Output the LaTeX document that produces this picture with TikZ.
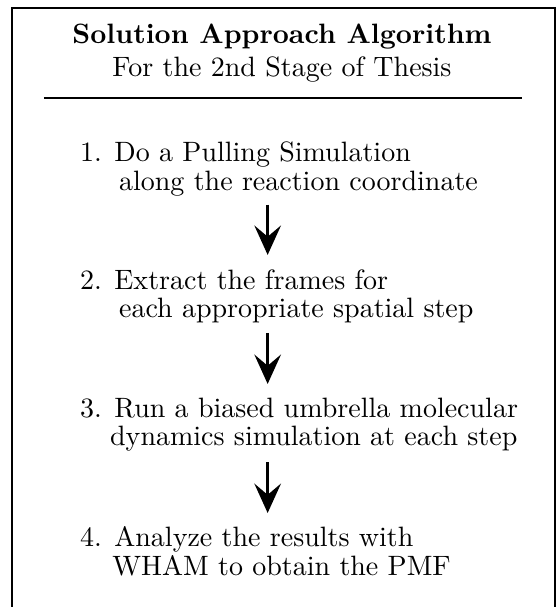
\documentclass[tikz,border=0pt]{standalone}
\usepackage{amsmath}
\usepackage{tikz}
\usepackage{xcolor}
\usetikzlibrary{arrows.meta}

\tikzset{
    stepnode/.style={anchor=west, align=left, inner sep=0pt, font=\fontsize{10}{10.2}\selectfont},
    headnode/.style={anchor=base, inner sep=0pt, font=\fontsize{10}{10.2}\selectfont},
    flowarrow/.style={black, line width=0.9pt, -{Stealth[length=10.5pt,width=9.5pt,inset=4pt]}}
}

\begin{document}
\begin{tikzpicture}
        \clip (0,0) rectangle (6.98,-7.62);
        \draw[black, line width=0.7pt] (0.15,-8.5) -- (0.15,-0.10) -- (6.97,-0.10) -- (6.97,-8.5);
        \node[headnode] (title) at (3.54,-0.54) {\textbf{Solution Approach Algorithm}};
        \node[headnode] (sub) at (3.54,-0.955) {For the 2nd Stage of Thesis};
        \draw[black, line width=0.7pt] (0.55,-1.23) -- (6.55,-1.23);
        \node[stepnode] (s1) at (1.00,-2.12) {1. Do a Pulling Simulation\\ \hspace*{13.9pt}along the reaction coordinate};
        \node[stepnode] (s2) at (1.00,-3.72) {2. Extract the frames for\\ \hspace*{13.9pt}each appropriate spatial step};
        \node[stepnode] (s3) at (1.00,-5.33) {3. Run a biased umbrella molecular\\ \hspace*{10.7pt}dynamics simulation at each step};
        \node[stepnode] (s4) at (1.00,-6.92) {4. Analyze the results with\\ \hspace*{11.5pt}WHAM to obtain the PMF};
        \coordinate (a1) at (3.36,-2.57);
        \coordinate (b1) at (3.36,-3.20);
        \coordinate (a2) at (3.36,-4.18);
        \coordinate (b2) at (3.36,-4.82);
        \coordinate (a3) at (3.36,-5.80);
        \coordinate (b3) at (3.36,-6.44);
        \draw[flowarrow] (a1) -- (b1);
        \draw[flowarrow] (a2) -- (b2);
        \draw[flowarrow] (a3) -- (b3);
    \end{tikzpicture}
\end{document}
